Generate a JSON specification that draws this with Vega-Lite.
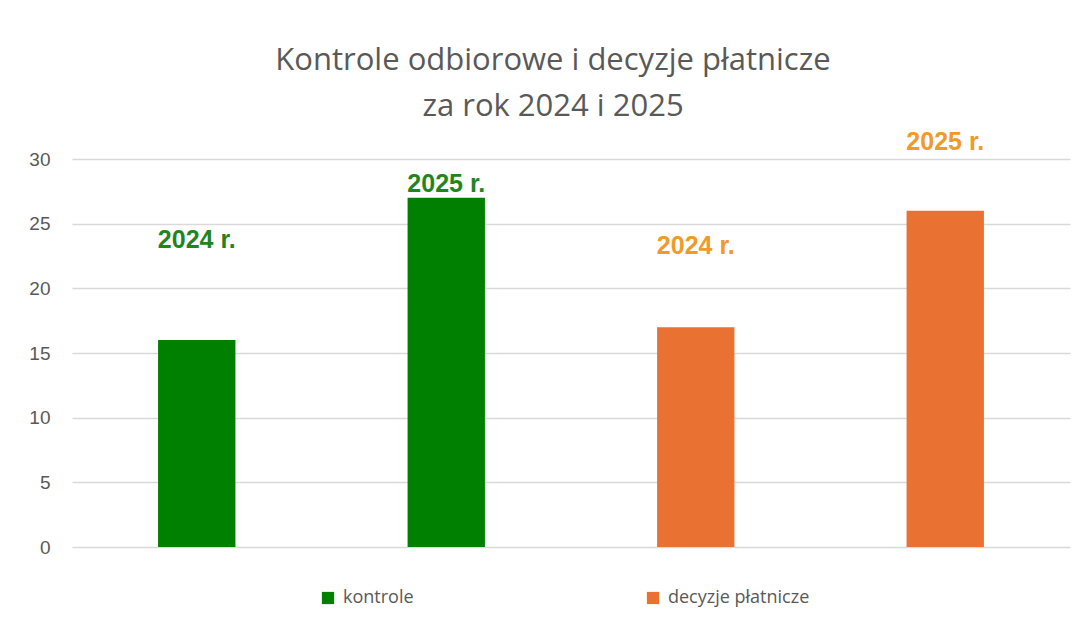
{
  "$schema": "https://vega.github.io/schema/vega-lite/v6.json",
  "autosize": "none",
  "width": 998,
  "height": 388,
  "padding": {"left": 72, "top": 159, "right": 16, "bottom": 81},
  "background": "white",
  "title": {
    "text": ["Kontrole odbiorowe i decyzje płatnicze", "za rok 2024 i 2025"],
    "anchor": "middle",
    "dx": -18,
    "offset": 7,
    "font": "Open Sans",
    "fontSize": 31,
    "fontWeight": "normal",
    "lineHeight": 46,
    "color": "#595959"
  },
  "config": {
    "view": {"stroke": null},
    "axis": {"labelFont": "Liberation Sans"}
  },
  "data": {
    "values": [
      {"key": "k2024", "series": "kontrole", "year": "2024", "value": 16, "label": "2024 r.", "labelY": 23.7},
      {"key": "k2025", "series": "kontrole", "year": "2025", "value": 27, "label": "2025 r.", "labelY": 28.1},
      {"key": "d2024", "series": "decyzje płatnicze", "year": "2024", "value": 17, "label": "2024 r.", "labelY": 23.3},
      {"key": "d2025", "series": "decyzje płatnicze", "year": "2025", "value": 26, "label": "2025 r.", "labelY": 31.3}
    ]
  },
  "encoding": {
    "x": {
      "field": "key",
      "type": "nominal",
      "sort": ["k2024", "k2025", "d2024", "d2025"],
      "axis": null,
      "scale": {"paddingInner": 0.69, "paddingOuter": 0.345}
    }
  },
  "layer": [
    {
      "mark": {"type": "bar"},
      "encoding": {
        "y": {
          "field": "value",
          "type": "quantitative",
          "scale": {"domain": [0, 30], "nice": false},
          "axis": {
            "title": null,
            "values": [0, 5, 10, 15, 20, 25, 30],
            "domain": false,
            "ticks": false,
            "labelFontSize": 19,
            "labelColor": "#595959",
            "labelPadding": 22,
            "gridColor": "#d9d9d9",
            "gridWidth": 1.5
          }
        },
        "color": {
          "field": "series",
          "type": "nominal",
          "scale": {"domain": ["kontrole", "decyzje płatnicze"], "range": ["#008000", "#E97132"]},
          "legend": {
            "title": null,
            "orient": "none",
            "direction": "horizontal",
            "legendX": 247,
            "legendY": 430,
            "padding": 0,
            "symbolType": "square",
            "symbolSize": 150,
            "symbolStrokeWidth": 0,
            "labelFont": "Open Sans",
            "labelFontSize": 18,
            "labelColor": "#595959",
            "labelOffset": 6,
            "columnPadding": 230
          }
        }
      }
    },
    {
      "mark": {"type": "text", "font": "Liberation Sans", "fontWeight": "bold", "fontSize": 25, "baseline": "middle", "align": "center"},
      "encoding": {
        "y": {"field": "labelY", "type": "quantitative"},
        "text": {"field": "label"},
        "color": {
          "field": "series",
          "type": "nominal",
          "scale": {"domain": ["kontrole", "decyzje płatnicze"], "range": ["#1f861f", "#F19A2A"]},
          "legend": null
        }
      }
    }
  ],
  "resolve": {"scale": {"color": "independent"}}
}
